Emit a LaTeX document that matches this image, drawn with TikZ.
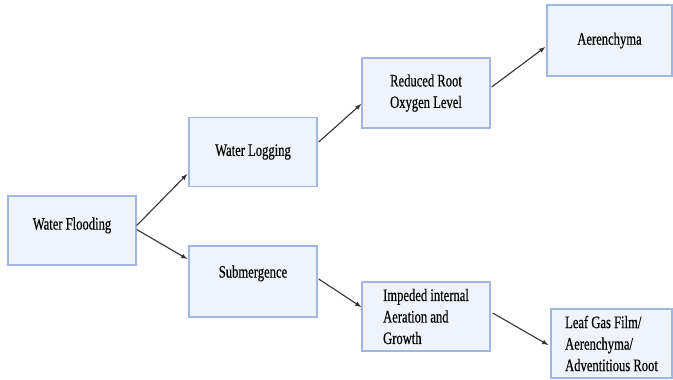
\documentclass[tikz,border=0pt]{standalone}
\usepackage{fontspec}
\setmainfont{Liberation Serif}[FakeStretch=0.72,FakeBold=0.4]
\usepackage{xcolor}
\usepackage{tikz}
\usetikzlibrary{arrows,positioning}

\definecolor{boxline}{RGB}{160,183,228}
\definecolor{boxfill}{RGB}{238,243,252}

\begin{document}
\begin{tikzpicture}[
	x=1pt, y=1pt, >=latex,
	every node/.style = {font=\fontsize{17.5}{21.5}\selectfont},
	box/.style = {shape=rectangle, draw=boxline, fill=boxfill,
	line width=1.4pt, inner sep=0pt, align=left,
	minimum width=128pt, minimum height=69pt},
	link/.style = {->, draw=black!80, line width=1.1pt}
]
\useasboundingbox (0,0) rectangle (673,-380);

% first column
\node[box, text depth=14pt] (flood) at (72,-230.5) {Water Flooding};

% second column
\node[box] (logging) at (253,-152) {Water Logging};
\node[box, minimum height=71pt, text depth=20pt] (submerge) at (253,-281.5) {Submergence};

% third column
\node[box, minimum height=70pt] (oxygen) at (426,-93) {Reduced Root\\Oxygen Level};
\node[box] (impeded) at (426,-316.5) {Impeded internal\\Aeration and\\Growth};

% last column
\node[box, minimum width=125pt, minimum height=71pt] (aeren) at (609.5,-40.5) {Aerenchyma};
\node[box, minimum width=121pt] (leaf) at (611.5,-343.5) {Leaf Gas Film/\\Aerenchyma/\\Adventitious Root};

\draw[link] ([yshift=5pt]flood.east) -- ([xshift=-1pt,yshift=-22pt]logging.west);
\draw[link] ([yshift=1pt]flood.east) -- ([xshift=-1pt,yshift=22.5pt]submerge.west);
\draw[link] ([xshift=1pt,yshift=10pt]logging.east) -- ([yshift=-11pt]oxygen.west);
\draw[link] ([xshift=1pt,yshift=2.5pt]submerge.east) -- ([yshift=9.5pt]impeded.west);
\draw[link] ([xshift=1pt,yshift=6pt]oxygen.east) -- ([xshift=-1pt,yshift=-6.5pt]aeren.west);
\draw[link] ([xshift=2pt,yshift=3.5pt]impeded.east) -- ([xshift=-2pt,yshift=-1.5pt]leaf.west);
\end{tikzpicture}
\end{document}
